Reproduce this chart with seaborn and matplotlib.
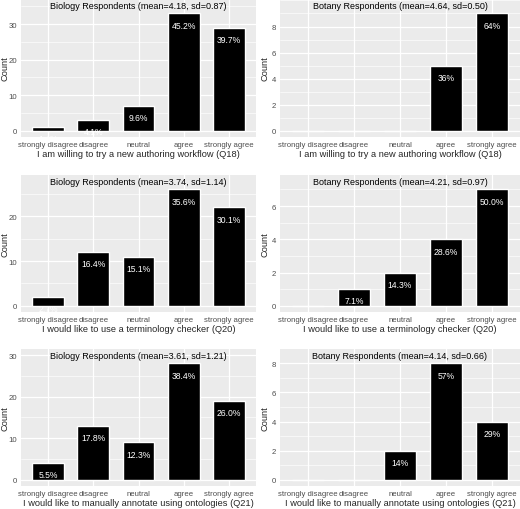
import numpy as np
import pandas as pd
import seaborn as sns
import matplotlib.pyplot as plt
from matplotlib.ticker import MultipleLocator, FixedLocator

# Likert levels shared by all panels
levels = ['strongly disagree', 'disagree', 'neutral', 'agree', 'strongly agree']

# counts
bio_q18 = [1, 3, 7, 33, 29]
bot_q18 = [0, 0, 0, 5, 9]
bio_q20 = [2, 12, 11, 26, 22]
bot_q20 = [0, 1, 2, 4, 7]
bio_q21 = [4, 13, 9, 28, 19]
bot_q21 = [0, 0, 2, 8, 4]

# percentage labels as printed on the bars ('' = no label)
bio_q18_pct = ['1.4%', '4.1%', '9.6%', '45.2%', '39.7%']
bot_q18_pct = ['', '', '', '36%', '64%']
bio_q20_pct = ['2.7%', '16.4%', '15.1%', '35.6%', '30.1%']
bot_q20_pct = ['', '7.1%', '14.3%', '28.6%', '50.0%']
bio_q21_pct = ['5.5%', '17.8%', '12.3%', '38.4%', '26.0%']
bot_q21_pct = ['', '', '14%', '57%', '29%']

titles = [
    'Biology Respondents (mean=4.18, sd=0.87)',
    'Botany Respondents (mean=4.64, sd=0.50)',
    'Biology Respondents (mean=3.74, sd=1.14)',
    'Botany Respondents (mean=4.21, sd=0.97)',
    'Biology Respondents (mean=3.61, sd=1.21)',
    'Botany Respondents (mean=4.14, sd=0.66)',
]
questions = [
    'I am willing to try a new authoring workflow (Q18)',
    'I would like to use a terminology checker (Q20)',
    'I would like to manually annotate using ontologies (Q21)',
]

panels = [
    (bio_q18, bio_q18_pct, titles[0], questions[0]),
    (bot_q18, bot_q18_pct, titles[1], questions[0]),
    (bio_q20, bio_q20_pct, titles[2], questions[1]),
    (bot_q20, bot_q20_pct, titles[3], questions[1]),
    (bio_q21, bio_q21_pct, titles[4], questions[2]),
    (bot_q21, bot_q21_pct, titles[5], questions[2]),
]

sns.set_style('darkgrid', {'axes.facecolor': '#EBEBEB', 'grid.color': 'white'})
plt.rcParams['font.family'] = ['Liberation Sans', 'DejaVu Sans']

W, H = 520, 510
fig = plt.figure(figsize=(W / 100, H / 100), dpi=100)

col_x = [(21, 235), (280, 240)]
rows = [(0, 138), (176, 137), (350, 137)]

for i, (counts, pct, title, question) in enumerate(panels):
    r, c = divmod(i, 2)
    x0, pw = col_x[c]
    top_px, ph = rows[r]
    ax = fig.add_axes([x0 / W, 1 - (top_px + ph) / H, pw / W, ph / H])

    df = pd.DataFrame({'answer': levels, 'count': counts})
    sns.barplot(data=df, x='answer', y='count', order=levels, color='black',
                saturation=1, width=0.7, ax=ax)

    top = max(counts) * 1.07
    ax.set_ylim(-0.05 * top, 1.05 * top)
    ax.set_xlim(-0.6, 4.6)

    step = 10 if max(counts) > 12 else 2
    ax.yaxis.set_major_locator(FixedLocator(np.arange(0, top * 1.02, step)))
    ax.yaxis.set_minor_locator(MultipleLocator(step / 2))
    ax.grid(which='major', color='white', lw=0.9)
    ax.grid(which='minor', axis='y', color='white', lw=0.45)
    ax.set_axisbelow(True)
    for s in ax.spines.values():
        s.set_visible(False)

    for j, (v, lab) in enumerate(zip(counts, pct)):
        if lab:
            ax.annotate(lab, (j, v), xytext=(0, -8.5), textcoords='offset points',
                        ha='center', va='center', color='white', fontsize=6.2,
                        annotation_clip=False, clip_on=True)

    ax.text(0.5, 0.955, title, transform=ax.transAxes, ha='center', va='center',
            fontsize=6.5, color='black')

    ax.tick_params(axis='both', which='major', length=2, width=0.6,
                   color='#333333', labelcolor='#4D4D4D', labelsize=5.6, pad=0.8)
    ax.tick_params(axis='y', which='minor', length=0)
    ax.set_xlabel(question, fontsize=6.7, labelpad=0.5)
    ax.set_ylabel('Count', fontsize=6.7)
    ax.yaxis.set_label_coords(((9 if c == 0 else 270) - x0) / pw, 0.5)

fig.savefig('out.png', dpi=100)
